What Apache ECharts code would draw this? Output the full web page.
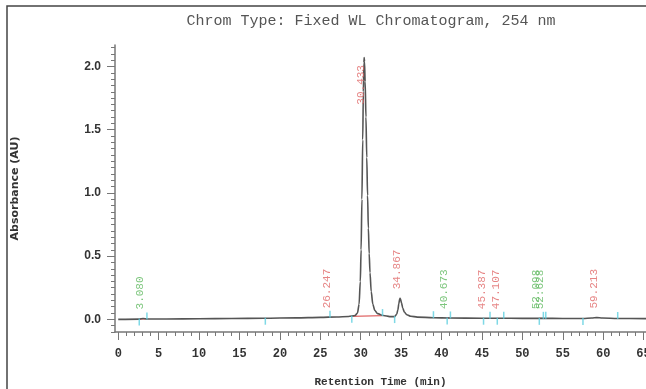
<!DOCTYPE html>
<html>
<head>
<meta charset="utf-8">
<script src="https://cdn.jsdelivr.net/npm/echarts@6/dist/echarts.min.js"></script>
<style>
  html, body { margin: 0; padding: 0; background: #fff; }
  #chart { width: 646px; height: 389px; }
</style>
</head>
<body>
<div id="chart"></div>
<script>
// chromatogram trace (min, AU)
const timeMin = [0, 2.6, 3.08, 3.6, 6, 10, 14, 18, 22, 25, 27, 28.5, 29.3, 29.6, 29.8, 29.95, 30.05, 30.15, 30.25, 30.33, 30.4, 30.43, 30.47, 30.55, 30.65, 30.75, 30.85, 30.95, 31.05, 31.15, 31.3, 31.5, 31.75, 32.1, 32.8, 33.6, 34.2, 34.45, 34.6, 34.72, 34.82, 34.87, 34.93, 35.05, 35.2, 35.4, 35.7, 36.2, 37, 39, 41, 45, 47, 50, 52.5, 55, 57.5, 58.6, 59.2, 59.9, 61.8, 65.3];
const absorbanceAU = [0, 0.002, 0.007, 0.003, 0.003, 0.005, 0.007, 0.009, 0.012, 0.016, 0.019, 0.023, 0.03, 0.05, 0.12, 0.30, 0.55, 0.95, 1.42, 1.80, 2.03, 2.07, 2.04, 1.88, 1.60, 1.28, 0.98, 0.72, 0.52, 0.37, 0.22, 0.12, 0.07, 0.045, 0.03, 0.022, 0.022, 0.04, 0.075, 0.125, 0.16, 0.167, 0.16, 0.13, 0.09, 0.058, 0.037, 0.025, 0.018, 0.013, 0.011, 0.009, 0.009, 0.008, 0.008, 0.007, 0.007, 0.011, 0.014, 0.011, 0.007, 0.006];

// detected peaks
const peakTimes = [3.080, 26.247, 30.433, 34.867, 40.673, 45.387, 47.107, 52.098, 52.628, 59.213];
const peakHeights = [0.007, 0.016, 2.07, 0.167, 0.011, 0.009, 0.009, 0.008, 0.008, 0.014];
const peakKind = ['g', 'r', 'r', 'r', 'g', 'r', 'r', 'g', 'g', 'r'];

// integration markers (start below, end above the trace)
const markStartTimes = [2.6, 18.2, 28.9, 34.2, 40.7, 45.2, 46.9, 52.1, 57.5];
const markStartLevels = [0.002, 0.009, 0.024, 0.022, 0.011, 0.009, 0.009, 0.008, 0.007];
const markEndTimes = [3.55, 26.2, 32.7, 39.0, 41.1, 46.0, 47.7, 52.6, 52.9, 61.8];
const markEndLevels = [0.003, 0.016, 0.03, 0.013, 0.011, 0.009, 0.009, 0.008, 0.008, 0.007];

// baselines drawn under integrated peaks
const baseSegments = [
  [[2.6, 0.002], [3.55, 0.003]],
  [[28.9, 0.024], [32.7, 0.03]],
  [[40.7, 0.011], [41.1, 0.011]],
  [[52.1, 0.008], [52.6, 0.008]]
];

const xTicks = [0, 5, 10, 15, 20, 25, 30, 35, 40, 45, 50, 55, 60, 65];
const yTicks = [0, 0.5, 1.0, 1.5, 2.0];

const xMinor = [];
for (let i = 0; i <= 65; i++) xMinor.push(i);
const yMinor = [];
for (let i = -2; i <= 43; i++) yMinor.push(+(i * 0.05).toFixed(2));

const GREEN = '#5cb85c';
const RED = '#e06666';
const CYAN = '#5fd0e0';
const AXIS = '#777';

const chart = echarts.init(document.getElementById('chart'));

// label offset is in the rotated frame: [along text (up), across (right)]
const peakData = peakTimes.map((t, i) => {
  const item = { value: [t, peakHeights[i]], name: t.toFixed(3) };
  item.label = { color: peakKind[i] === 'g' ? GREEN : RED };
  if (i === 2) item.label.offset = [-47, -3];
  return item;
});

const option = {
  animation: false,
  title: {
    text: 'Chrom Type: Fixed WL Chromatogram, 254 nm',
    left: 366,
    textAlign: 'center',
    top: 9,
    textStyle: { fontFamily: 'Liberation Mono', fontSize: 15, fontWeight: 'normal', color: '#555' }
  },
  graphic: [{
    type: 'rect',
    shape: { x: 7, y: 6, width: 700, height: 500 },
    style: { fill: 'none', stroke: '#444', lineWidth: 1.5 },
    silent: true
  }],
  grid: { left: 115, right: 0, top: 45, bottom: 57, outerBoundsMode: 'none' },
  xAxis: [{
    type: 'value',
    min: -0.4,
    max: 65.3,
    position: 'bottom',
    name: 'Retention Time (min)',
    nameLocation: 'middle',
    nameGap: 45,
    nameTextStyle: { fontFamily: 'Liberation Mono', fontWeight: 'bold', fontSize: 11, color: '#333' },
    axisLine: { show: true, onZero: false, lineStyle: { color: AXIS, width: 1.5 } },
    axisTick: { show: true, customValues: xTicks, length: 8, lineStyle: { color: AXIS } },
    axisLabel: { customValues: xTicks, margin: 16, fontFamily: 'Liberation Mono', fontWeight: 'bold', fontSize: 12, color: '#333' },
    splitLine: { show: false }
  }, {
    type: 'value',
    min: -0.4,
    max: 65.3,
    position: 'bottom',
    offset: 0,
    axisLine: { show: false, onZero: false },
    axisTick: { show: true, customValues: xMinor, length: 4, lineStyle: { color: AXIS } },
    axisLabel: { show: false },
    splitLine: { show: false }
  }],
  yAxis: [{
    type: 'value',
    min: -0.1,
    max: 2.17,
    position: 'left',
    name: 'Absorbance (AU)',
    nameLocation: 'middle',
    nameGap: 94,
    nameTextStyle: { fontFamily: 'DejaVu Sans', fontWeight: 'bold', fontSize: 11, color: '#333' },
    axisLine: { show: true, onZero: false, lineStyle: { color: AXIS, width: 1.5 } },
    axisTick: { show: true, customValues: yTicks, length: 8, lineStyle: { color: AXIS } },
    axisLabel: { customValues: yTicks, margin: 14, formatter: v => v.toFixed(1), fontFamily: 'Liberation Sans', fontWeight: 'bold', fontSize: 12, color: '#333' },
    splitLine: { show: false }
  }, {
    type: 'value',
    min: -0.1,
    max: 2.17,
    position: 'left',
    offset: 0,
    axisLine: { show: false, onZero: false },
    axisTick: { show: true, customValues: yMinor, length: 4, lineStyle: { color: AXIS } },
    axisLabel: { show: false },
    splitLine: { show: false }
  }],
  series: [
    {
      type: 'line',
      data: timeMin.map((t, i) => [t, absorbanceAU[i]]),
      showSymbol: false,
      smooth: 0.3,
      smoothMonotone: 'x',
      lineStyle: { color: '#555', width: 1.6 },
      z: 3
    },
    ...baseSegments.map(seg => ({
      type: 'line',
      data: seg,
      showSymbol: false,
      lineStyle: { color: RED, width: 1.2 },
      z: 2
    })),
    {
      type: 'scatter',
      data: markStartTimes.map((t, i) => [t, markStartLevels[i]]),
      symbol: 'rect',
      symbolSize: [1.5, 7],
      symbolOffset: [0, 3],
      itemStyle: { color: CYAN },
      z: 4
    },
    {
      type: 'scatter',
      data: markEndTimes.map((t, i) => [t, markEndLevels[i]]),
      symbol: 'rect',
      symbolSize: [1.5, 7],
      symbolOffset: [0, -3],
      itemStyle: { color: CYAN },
      z: 4
    },
    {
      type: 'scatter',
      data: peakData,
      symbolSize: 1,
      itemStyle: { color: 'transparent' },
      label: {
        show: true,
        formatter: p => p.name,
        position: 'inside',
        rotate: 90,
        align: 'left',
        verticalAlign: 'middle',
        offset: [9, -3],
        fontFamily: 'Liberation Mono',
        fontSize: 11
      },
      z: 5
    }
  ]
};

chart.setOption(option);
</script>
</body>
</html>
